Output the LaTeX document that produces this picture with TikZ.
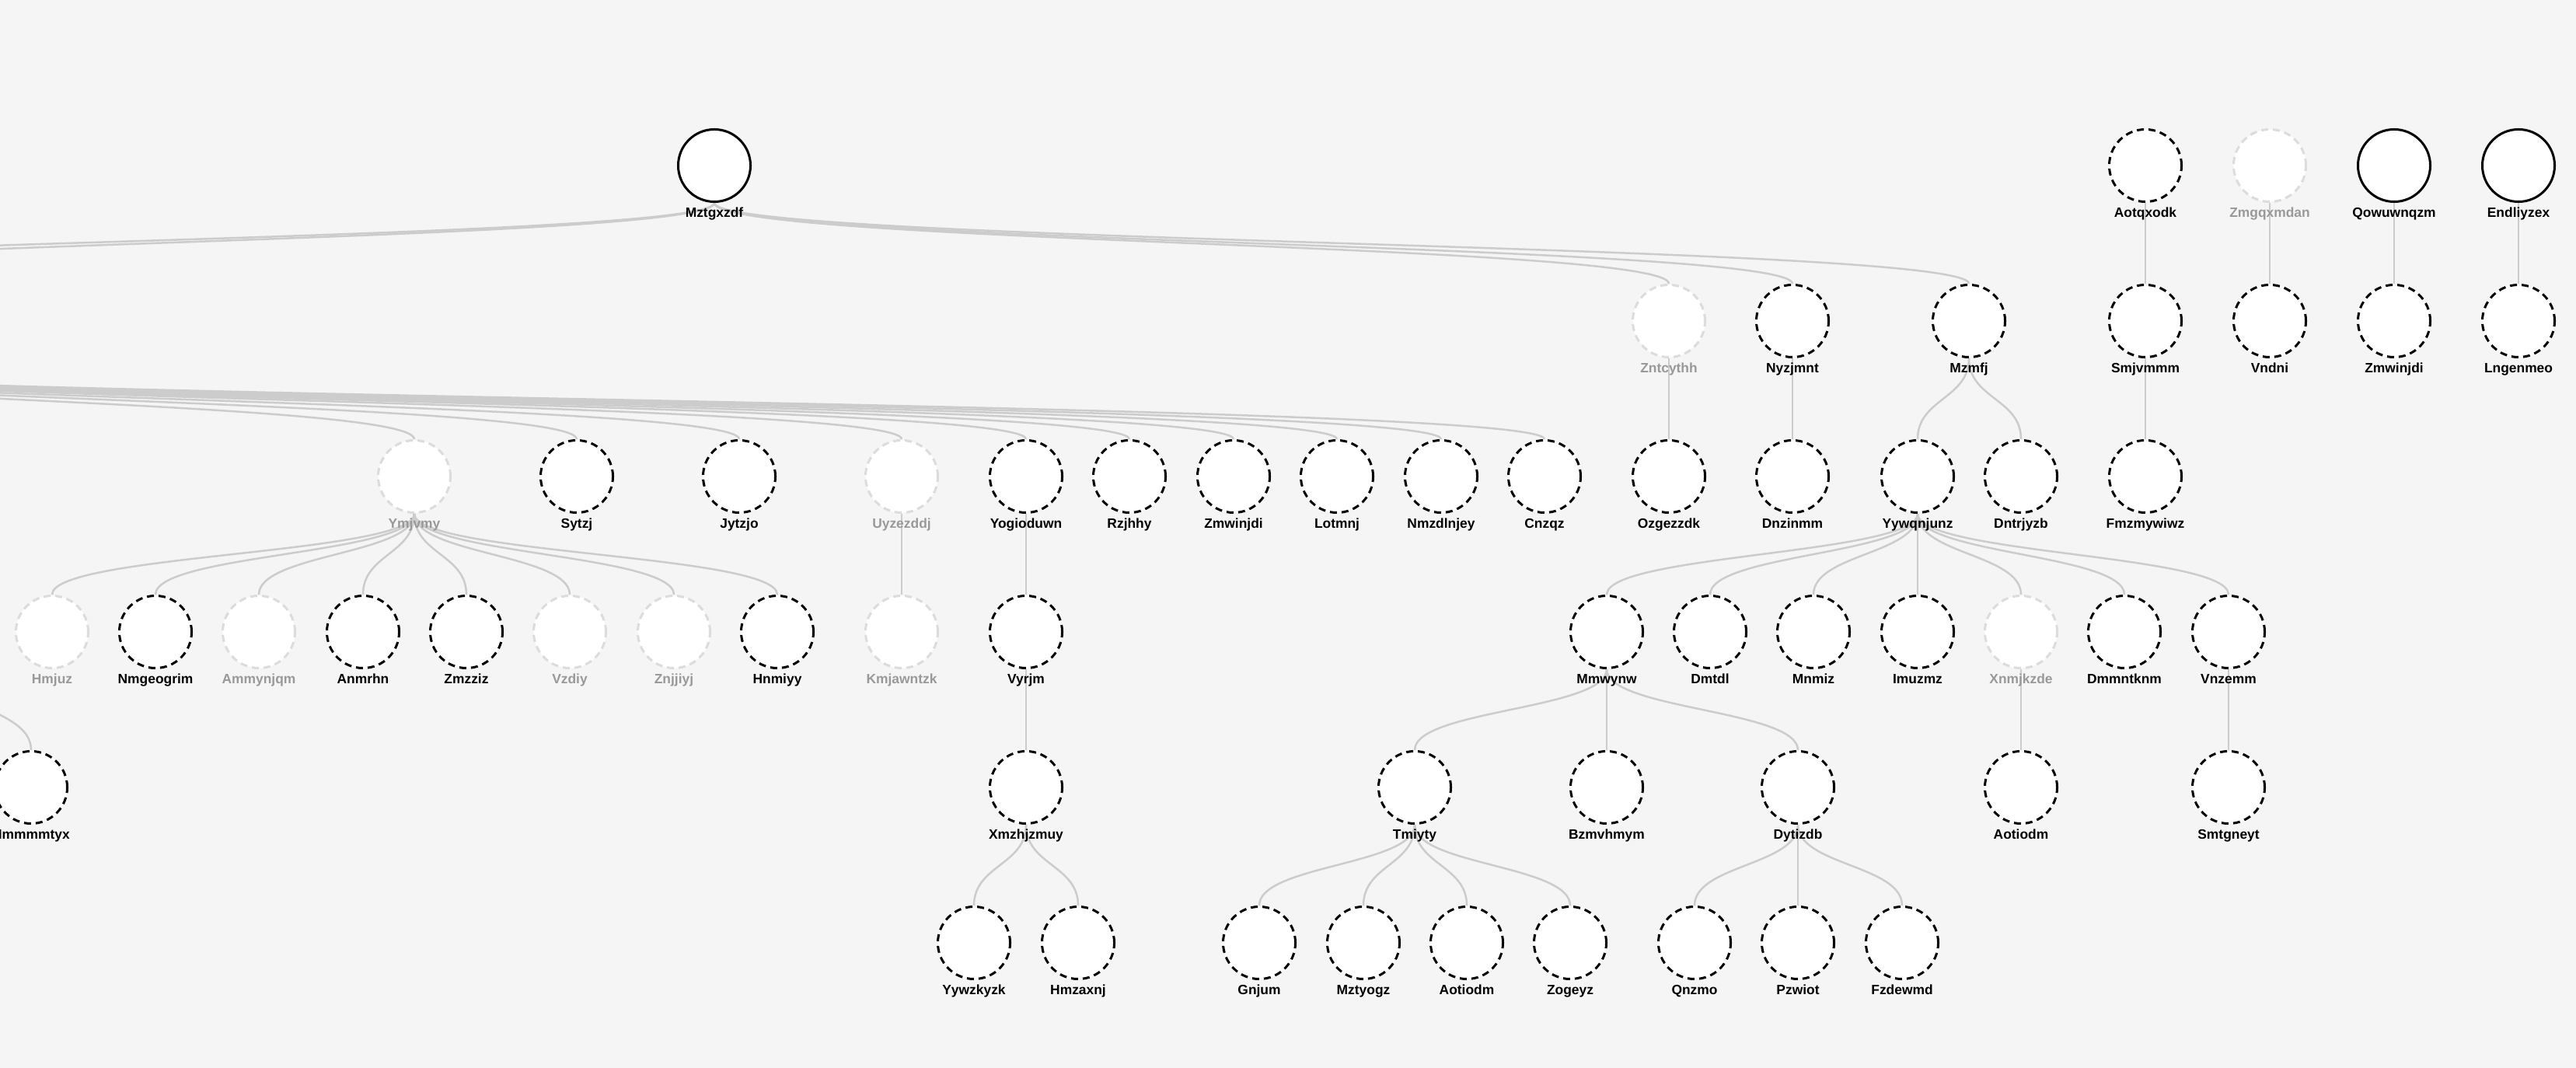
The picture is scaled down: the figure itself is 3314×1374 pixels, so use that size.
\documentclass[tikz,border=0pt]{standalone}
\usepackage{fontspec}
\setmainfont{Liberation Sans}
\usetikzlibrary{calc,backgrounds}
\definecolor{bggray}{HTML}{F5F5F5}
\definecolor{linkgray}{HTML}{CCCCCC}
\definecolor{ghostline}{HTML}{DCDCDC}
\definecolor{ghosttext}{HTML}{999999}
\tikzset{
    knot/.style={circle, fill=white, minimum size=0.93cm, inner sep=0pt,
        line width=0.03cm},
    rootknot/.style={knot, draw=black},
    openknot/.style={knot, draw=black, dash pattern=on 0.09cm off 0.06cm},
    ghostknot/.style={knot, draw=ghostline, dash pattern=on 0.09cm off 0.06cm},
    tag/.style={anchor=base, yshift=-0.18cm, font=\fontsize{4.95pt}{6pt}\selectfont\bfseries},
    ghosttag/.style={tag, text=ghosttext},
    link/.style={draw=linkgray, line width=0.025cm,
        to path={.. controls ($(\tikztostart)!0.5!(\tikztostart|-\tikztotarget)$)
            and ($(\tikztotarget)!0.5!(\tikztotarget|-\tikztostart)$) .. (\tikztotarget)}},
}
\begin{document}
\begin{tikzpicture}[x=0.01cm, y=-0.01cm]
\useasboundingbox (0,0) rectangle (3314,1374);
% level 0
\node[rootknot, label={[tag]below:Mztgxzdf}] (mztgxzdf) at (919,213) {};
\node[openknot, label={[tag]below:Aotqxodk}] (aotqxodk) at (2760,213) {};
\node[ghostknot, label={[ghosttag]below:Zmgqxmdan}] (zmgqxmdan) at (2920,213) {};
\node[rootknot, label={[tag]below:Qowuwnqzm}] (qowuwnqzm) at (3080,213) {};
\node[rootknot, label={[tag]below:Endliyzex}] (endliyzex) at (3240,213) {};
% level 1
\coordinate (offAin) at (-530,365);
\coordinate (offAout) at (-530,461);
\coordinate (offBin) at (-750,365);
\node[ghostknot, label={[ghosttag]below:Zntcythh}] (zntcythh) at (2147,413) {};
\node[openknot, label={[tag]below:Nyzjmnt}] (nyzjmnt) at (2306,413) {};
\node[openknot, label={[tag]below:Mzmfj}] (mzmfj) at (2533,413) {};
\node[openknot, label={[tag]below:Smjvmmm}] (smjvmmm) at (2760,413) {};
\node[openknot, label={[tag]below:Vndni}] (vndni) at (2920,413) {};
\node[openknot, label={[tag]below:Zmwinjdi}] (zmwinjdiB) at (3080,413) {};
\node[openknot, label={[tag]below:Lngenmeo}] (lngenmeo) at (3240,413) {};
% level 2
\node[ghostknot, label={[ghosttag]below:Ymjvmy}] (ymjvmy) at (533,613) {};
\node[openknot, label={[tag]below:Sytzj}] (sytzj) at (742,613) {};
\node[openknot, label={[tag]below:Jytzjo}] (jytzjo) at (951,613) {};
\node[ghostknot, label={[ghosttag]below:Uyzezddj}] (uyzezddj) at (1160,613) {};
\node[openknot, label={[tag]below:Yogioduwn}] (yogioduwn) at (1320,613) {};
\node[openknot, label={[tag]below:Rzjhhy}] (rzjhhy) at (1453,613) {};
\node[openknot, label={[tag]below:Zmwinjdi}] (zmwinjdi) at (1587,613) {};
\node[openknot, label={[tag]below:Lotmnj}] (lotmnj) at (1720,613) {};
\node[openknot, label={[tag]below:Nmzdlnjey}] (nmzdlnjey) at (1854,613) {};
\node[openknot, label={[tag]below:Cnzqz}] (cnzqz) at (1987,613) {};
\node[openknot, label={[tag]below:Ozgezzdk}] (ozgezzdk) at (2147,613) {};
\node[openknot, label={[tag]below:Dnzinmm}] (dnzinmm) at (2306,613) {};
\node[openknot, label={[tag]below:Yywqnjunz}] (yywqnjunz) at (2467,613) {};
\node[openknot, label={[tag]below:Dntrjyzb}] (dntrjyzb) at (2600,613) {};
\node[openknot, label={[tag]below:Fmzmywiwz}] (fmzmywiwz) at (2760,613) {};
% level 3
\coordinate (offCout) at (-67,861);
\node[ghostknot, label={[ghosttag]below:Hmjuz}] (hmjuz) at (67,813) {};
\node[openknot, label={[tag]below:Nmgeogrim}] (nmgeogrim) at (200,813) {};
\node[ghostknot, label={[ghosttag]below:Ammynjqm}] (ammynjqm) at (333,813) {};
\node[openknot, label={[tag]below:Anmrhn}] (anmrhn) at (467,813) {};
\node[openknot, label={[tag]below:Zmzziz}] (zmzziz) at (600,813) {};
\node[ghostknot, label={[ghosttag]below:Vzdiy}] (vzdiy) at (733,813) {};
\node[ghostknot, label={[ghosttag]below:Znjjiyj}] (znjjiyj) at (867,813) {};
\node[openknot, label={[tag]below:Hnmiyy}] (hnmiyy) at (1000,813) {};
\node[ghostknot, label={[ghosttag]below:Kmjawntzk}] (kmjawntzk) at (1160,813) {};
\node[openknot, label={[tag]below:Vyrjm}] (vyrjm) at (1320,813) {};
\node[openknot, label={[tag]below:Mmwynw}] (mmwynw) at (2067,813) {};
\node[openknot, label={[tag]below:Dmtdl}] (dmtdl) at (2200,813) {};
\node[openknot, label={[tag]below:Mnmiz}] (mnmiz) at (2333,813) {};
\node[openknot, label={[tag]below:Imuzmz}] (imuzmz) at (2467,813) {};
\node[ghostknot, label={[ghosttag]below:Xnmjkzde}] (xnmjkzde) at (2600,813) {};
\node[openknot, label={[tag]below:Dmmntknm}] (dmmntknm) at (2733,813) {};
\node[openknot, label={[tag]below:Vnzemm}] (vnzemm) at (2867,813) {};
% level 4
\node[openknot, label={[tag]below:Hmmmmtyx}] (hmmmmtyx) at (40,1013) {};
\node[openknot, label={[tag]below:Xmzhjzmuy}] (xmzhjzmuy) at (1320,1013) {};
\node[openknot, label={[tag]below:Tmiyty}] (tmiyty) at (1820,1013) {};
\node[openknot, label={[tag]below:Bzmvhmym}] (bzmvhmym) at (2067,1013) {};
\node[openknot, label={[tag]below:Dytizdb}] (dytizdb) at (2313,1013) {};
\node[openknot, label={[tag]below:Aotiodm}] (aotiodm) at (2600,1013) {};
\node[openknot, label={[tag]below:Smtgneyt}] (smtgneyt) at (2867,1013) {};
% level 5
\node[openknot, label={[tag]below:Yywzkyzk}] (yywzkyzk) at (1253,1213) {};
\node[openknot, label={[tag]below:Hmzaxnj}] (hmzaxnj) at (1387,1213) {};
\node[openknot, label={[tag]below:Gnjum}] (gnjum) at (1620,1213) {};
\node[openknot, label={[tag]below:Mztyogz}] (mztyogz) at (1754,1213) {};
\node[openknot, label={[tag]below:Aotiodm}] (aotiodmB) at (1887,1213) {};
\node[openknot, label={[tag]below:Zogeyz}] (zogeyz) at (2020,1213) {};
\node[openknot, label={[tag]below:Qnzmo}] (qnzmo) at (2180,1213) {};
\node[openknot, label={[tag]below:Pzwiot}] (pzwiot) at (2313,1213) {};
\node[openknot, label={[tag]below:Fzdewmd}] (fzdewmd) at (2447,1213) {};
\begin{pgfonlayer}{background}
\fill[bggray] (0,0) rectangle (3314,1374);
% links
\draw[link] (mztgxzdf.south) to (offAin);
\draw[link] (mztgxzdf.south) to (offBin);
\foreach \kid in {zntcythh,nyzjmnt,mzmfj}
    \draw[link] (mztgxzdf.south) to (\kid.north);
\foreach \kid in {ymjvmy,sytzj,jytzjo,uyzezddj,yogioduwn,rzjhhy,zmwinjdi,lotmnj,nmzdlnjey,cnzqz}
    \draw[link] (offAout) to (\kid.north);
\foreach \kid in {hmjuz,nmgeogrim,ammynjqm,anmrhn,zmzziz,vzdiy,znjjiyj,hnmiyy}
    \draw[link] (ymjvmy.south) to (\kid.north);
\foreach \kid in {mmwynw,dmtdl,mnmiz,imuzmz,xnmjkzde,dmmntknm,vnzemm}
    \draw[link] (yywqnjunz.south) to (\kid.north);
\foreach \kid in {tmiyty,bzmvhmym,dytizdb}
    \draw[link] (mmwynw.south) to (\kid.north);
\foreach \kid in {gnjum,mztyogz,aotiodmB,zogeyz}
    \draw[link] (tmiyty.south) to (\kid.north);
\foreach \kid in {qnzmo,pzwiot,fzdewmd}
    \draw[link] (dytizdb.south) to (\kid.north);
\foreach \kid in {yywzkyzk,hmzaxnj}
    \draw[link] (xmzhjzmuy.south) to (\kid.north);
\foreach \kid in {yywqnjunz,dntrjyzb}
    \draw[link] (mzmfj.south) to (\kid.north);
\foreach \up/\kid in {zntcythh/ozgezzdk,nyzjmnt/dnzinmm,uyzezddj/kmjawntzk,
    yogioduwn/vyrjm,vyrjm/xmzhjzmuy,xnmjkzde/aotiodm,vnzemm/smtgneyt,
    aotqxodk/smjvmmm,smjvmmm/fmzmywiwz,zmgqxmdan/vndni,
    qowuwnqzm/zmwinjdiB,endliyzex/lngenmeo}
    \draw[link] (\up.south) to (\kid.north);
\draw[link] (offCout) to (hmmmmtyx.north);
\end{pgfonlayer}
\end{tikzpicture}
\end{document}
